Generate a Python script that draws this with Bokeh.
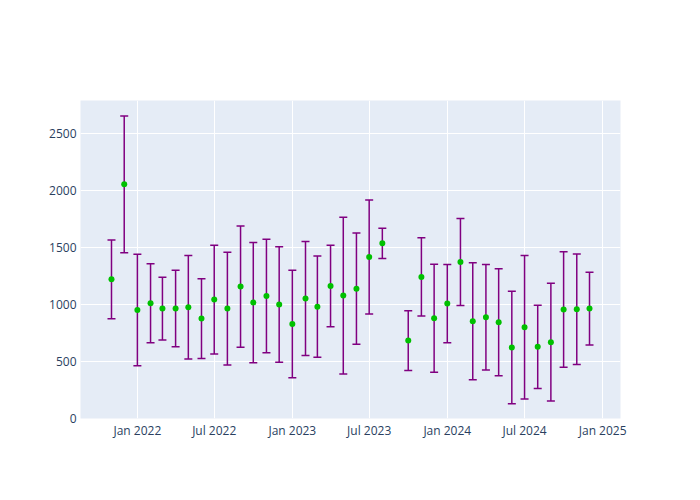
import pandas as pd
from bokeh.plotting import figure
from bokeh.models import ColumnDataSource, Whisker, TeeHead, FixedTicker, DatetimeTickFormatter, Range1d
from bokeh.embed import file_html
from bokeh.resources import INLINE

months = ["2021-11-01", "2021-12-01", "2022-01-01", "2022-02-01", "2022-03-01", "2022-04-01",
          "2022-05-01", "2022-06-01", "2022-07-01", "2022-08-01", "2022-09-01", "2022-10-01",
          "2022-11-01", "2022-12-01", "2023-01-01", "2023-02-01", "2023-03-01", "2023-04-01",
          "2023-05-01", "2023-06-01", "2023-07-01", "2023-08-01", "2023-10-01", "2023-11-01",
          "2023-12-01", "2024-01-01", "2024-02-01", "2024-03-01", "2024-04-01", "2024-05-01",
          "2024-06-01", "2024-07-01", "2024-08-01", "2024-09-01", "2024-10-01", "2024-11-01",
          "2024-12-01"]
mean_values = [1222, 2056, 953, 1012, 965, 965, 977, 877, 1044, 965, 1158, 1018,
               1076, 1000, 830, 1053, 982, 1164, 1079, 1140, 1418, 1538, 684, 1243,
               880, 1009, 1374, 854, 889, 845, 623, 801, 629, 670, 956, 959, 965]
error_values = [346, 600, 490, 346, 276, 336, 455, 351, 478, 495, 533, 528,
                498, 507, 472, 500, 444, 358, 688, 488, 501, 133, 263, 343,
                475, 343, 381, 514, 463, 469, 494, 630, 365, 517, 507, 485, 319]
x_tick_dates = ["2022-01-01", "2022-07-01", "2023-01-01", "2023-07-01",
                "2024-01-01", "2024-07-01", "2025-01-01"]
y_ticks = [0, 500, 1000, 1500, 2000, 2500]

dates = pd.to_datetime(months)
source = ColumnDataSource(dict(
    x=dates,
    y=mean_values,
    upper=[m + e for m, e in zip(mean_values, error_values)],
    lower=[m - e for m, e in zip(mean_values, error_values)],
))

x_start = pd.Timestamp("2022-01-01") - pd.Timedelta(days=134)
x_end = pd.Timestamp("2025-01-01") + pd.Timedelta(days=42)

p = figure(width=700, height=500, x_axis_type="datetime", output_backend="svg",
           toolbar_location=None,
           x_range=Range1d(x_start, x_end), y_range=Range1d(0, 2792),
           min_border_left=80, min_border_right=80, min_border_top=100, min_border_bottom=82)
p.background_fill_color = "#E5ECF6"
p.border_fill_color = "white"
p.outline_line_color = None

tick_ms = [pd.Timestamp(d).value / 1e6 for d in x_tick_dates]
p.xaxis.ticker = FixedTicker(ticks=tick_ms)
fmt = "%b %Y"
p.xaxis.formatter = DatetimeTickFormatter(days=fmt, months=fmt, years=fmt, hours=fmt,
                                          minutes=fmt, seconds=fmt, milliseconds=fmt,
                                          microseconds=fmt, minsec=fmt, hourmin=fmt)
p.yaxis.ticker = FixedTicker(ticks=y_ticks)

for ax in (p.xaxis, p.yaxis):
    ax.axis_line_color = None
    ax.major_tick_line_color = None
    ax.minor_tick_line_color = None
    ax.major_tick_out = 0
    ax.major_tick_in = 0
    ax.major_label_text_font = "Open Sans"
    ax.major_label_text_font_size = "12px"
    ax.major_label_text_color = "#2a3f5f"
p.xaxis.major_label_standoff = 3
p.yaxis.major_label_standoff = 4

p.xgrid.grid_line_color = "white"
p.ygrid.grid_line_color = "white"
p.xgrid.grid_line_width = 1
p.ygrid.grid_line_width = 1

whisk = Whisker(base="x", upper="upper", lower="lower", source=source,
                line_color="#800080", line_width=1.5,
                upper_head=TeeHead(size=8, line_color="#800080", line_width=1.5),
                lower_head=TeeHead(size=8, line_color="#800080", line_width=1.5))
p.add_layout(whisk)

p.scatter("x", "y", source=source, size=6, fill_color="#00C000", line_color=None)

open("out.html", "w").write(file_html(p, INLINE))
